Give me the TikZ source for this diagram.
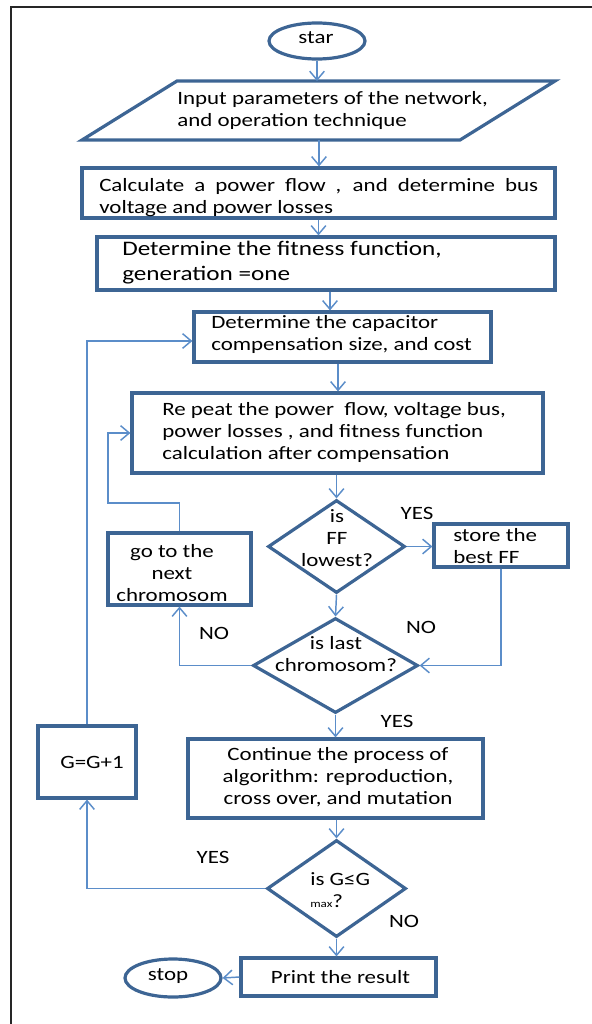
\documentclass[tikz,border=0pt]{standalone}
\usepackage{fontspec}
\setmainfont{Carlito}[FakeStretch=1.22]
\usetikzlibrary{shapes.geometric,arrows.meta}
\definecolor{boxblue}{HTML}{3D6594}
\definecolor{linkblue}{HTML}{5B8DC9}
\definecolor{framegray}{HTML}{262626}
\tikzset{
  boxline/.style={draw=boxblue, line width=2.4pt},
  rect/.style 2 args={boxline, rectangle, inner sep=0pt, minimum width=#1*0.75pt, minimum height=#2*0.75pt},
  oval/.style 2 args={boxline, ellipse, inner sep=0pt, minimum width=#1*0.75pt, minimum height=#2*0.75pt},
  dia/.style 2 args={boxline, diamond, inner sep=0pt, minimum width=#1*0.75pt, minimum height=#2*0.75pt},
  txt/.style={inner sep=0pt, font=\fontsize{14.1}{16.5}\selectfont},
  bigtxt/.style={inner sep=0pt, font=\fontsize{15.5}{18.75}\selectfont},
  conn/.style={draw=linkblue, line width=1.1pt, -{Straight Barb[length=6.5pt,width=11pt]}},
  plainconn/.style={draw=linkblue, line width=1.1pt},
}
\begin{document}
\begin{tikzpicture}[x=0.75pt,y=-0.75pt]
\useasboundingbox (0,0) rectangle (592,1024);
% frame
\draw[framegray, line width=1.9pt] (11,1024) -- (11,7) -- (592,7);

% shapes
\node[oval={96}{36}] (star) at (317,41) {};
\draw[boxline, line join=miter] (82,140) -- (177,81) -- (555,81) -- (460,140) -- cycle;
\coordinate (inputtop) at (318,81);
\coordinate (inputbot) at (319,140);
\node[rect={473}{50}] (calc) at (318.5,193) {};
\node[rect={458}{53}] (fit) at (326,263.5) {};
\node[rect={297}{50}] (cap) at (342.5,337) {};
\node[rect={411}{80}] (rep) at (337.5,433) {};
\node[dia={137}{93}] (d1) at (336.5,546.5) {};
\node[rect={134}{43}] (store) at (501,545.5) {};
\node[rect={143}{72}] (goto) at (179.5,569) {};
\node[dia={165}{95}] (d2) at (335.5,665.5) {};
\node[rect={295}{79}] (cont) at (335.5,778.5) {};
\node[rect={98}{72}] (gbox) at (87,762) {};
\node[dia={139}{97}] (d3) at (336.5,888.5) {};
\node[rect={195}{38}] (print) at (338.5,977) {};
\node[oval={96}{38}] (stop) at (173,978) {};

% texts
\node[txt] (tstar) at (316,38) {star};
\node[txt, anchor=west, align=left] (tinput) at (177,110) {Input parameters of the network,\\and operation technique};
\node[txt, anchor=west, align=left] (tcalc) at (99,198) {\makebox[329.25pt][s]{Calculate a power flow , and determine bus}\\voltage and power losses};
\node[bigtxt, anchor=west, align=left] (tfit) at (122,262.5) {Determine the fitness function,\\generation =one};
\node[txt, anchor=west, align=left] (tcap) at (211,334.5) {Determine the capacitor\\compensation size, and cost};
\node[txt, anchor=west, align=left] (trep) at (162,432) {Re peat the power\ \ flow, voltage bus,\\power losses , and fitness function\\calculation after compensation};
\node[txt, align=center] (td1) at (337,538.5) {is\\FF\\lowest?};
\node[txt, anchor=west, align=left] (tstore) at (453,546) {store the\\best FF};
\node[txt, align=center] (tgoto) at (172,573.5) {go to the\\next\\chromosom};
\node[txt, align=center] (td2) at (336,654.5) {is last\\chromosom?};
\node[txt, align=center] (tcont) at (338,777.5) {Continue the process of\\algorithm: reproduction,\\cross over, and mutation};
\node[txt] (tg) at (92,762) {G=G+1};
\node[txt, anchor=west, align=left] (td3) at (310,890.5) {is G≤G\\{\fontsize{8}{9}\selectfont max}?};
\node[txt] (tprint) at (340.5,977) {Print the result};
\node[txt] (tstop) at (168,976) {stop};

% labels
\node[txt] (lyes1) at (417,513) {YES};
\node[txt] (lno1) at (421,627) {NO};
\node[txt] (lno2) at (214,633) {NO};
\node[txt] (lyes2) at (397,721) {YES};
\node[txt] (lyes3) at (213,857) {YES};
\node[txt] (lno3) at (404,921) {NO};

% helper x positions
\coordinate (xa) at (330,0);
\coordinate (xb) at (338,0);
\coordinate (fb1) at (108,503);

% connectors
\draw[conn] (star.south) -- (star.south |- inputtop);
\draw[conn] (inputbot) -- (inputbot |- calc.north);
\draw[conn] (calc.south) -- (calc.south |- fit.north);
\draw[conn] (fit.south -| xa) -- (cap.north -| xa);
\draw[conn] (cap.south -| xb) -- (rep.north -| xb);
\draw[conn] (d1.north |- rep.south) -- (d1.north);
\draw[conn] (d1.east) -- (d1.east -| store.west);
\draw[conn] (d1.south) -- (d2.north);
\draw[conn] (store.south) |- (d2.east);
\draw[conn] (d2.west) -| (goto.south);
\draw[conn] (goto.north) |- (fb1) |- (rep.west);
\draw[conn] (d2.south) -- (d2.south |- cont.north);
\draw[conn] (d3.north |- cont.south) -- (d3.north);
\draw[conn] (d3.west) -| (gbox.south);
\draw[conn] (gbox.north) |- ([yshift=-3pt]cap.west);
\draw[conn] (d3.south) -- (d3.south |- print.north);
\draw[conn] (print.west) -- (stop.east);
\end{tikzpicture}
\end{document}
